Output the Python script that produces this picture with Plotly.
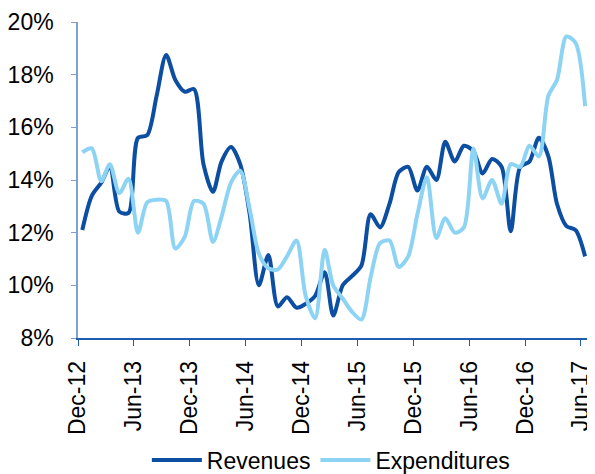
import pandas as pd
import plotly.graph_objs as go

# monthly, Dec-12 .. Jun-17 (% share)
months = pd.date_range("2012-12-01", "2017-06-01", freq="MS") + pd.Timedelta(days=14)

revenues = [12.1, 13.4, 13.9, 14.5, 12.8, 12.75, 15.6, 15.7, 17.2, 18.75,
            17.8, 17.35, 17.45, 14.6, 13.55, 14.7, 15.25, 14.6, 12.7, 10.0,
            11.15, 9.2, 9.55, 9.15, 9.3, 9.6, 10.5, 8.85, 10.0, 10.35,
            10.75, 12.7, 12.2, 13.1, 14.3, 14.5, 13.6, 14.5, 14.0, 15.45,
            14.7, 15.3, 15.1, 14.25, 14.8, 14.5, 12.05, 14.5, 14.7, 15.6,
            14.9, 13.1, 12.25, 12.1, 11.1]

expenditures = [15.05, 15.2, 13.95, 14.6, 13.5, 14.05, 12.0, 13.15, 13.25, 13.2,
                11.4, 11.85, 13.2, 13.1, 11.65, 12.6, 13.9, 14.35, 12.9, 11.2,
                10.65, 10.6, 11.1, 11.7, 9.6, 8.75, 11.35, 10.0, 9.5, 9.0,
                8.7, 10.3, 11.6, 11.7, 10.7, 11.1, 12.7, 14.1, 11.8, 12.55,
                12.0, 12.2, 15.2, 13.3, 14.0, 13.1, 14.6, 14.5, 15.3, 14.9,
                17.2, 17.8, 19.45, 19.2, 16.8]

dark = "#0b4ea2"
light = "#8dd3f4"
font = "Liberation Sans, Arial, sans-serif"

rev_line = go.Scatter(x=months, y=revenues, name="Revenues", mode="lines",
                      line=dict(color=dark, width=4, shape="spline", smoothing=0.8))
exp_line = go.Scatter(x=months, y=expenditures, name="Expenditures", mode="lines",
                      line=dict(color=light, width=4, shape="spline", smoothing=0.8))

# page body has an 8px margin, so the figure is sized to fit the window
layout = go.Layout(
  width=587, height=466,
  margin=dict(l=70, r=5, t=14, b=136),
  paper_bgcolor="white", plot_bgcolor="white",
  font=dict(family=font, size=23, color="black"),
  showlegend=True,
  legend=dict(orientation="h", xref="container", yref="container",
              x=0.55, y=0.03, xanchor="center", yanchor="middle",
              font=dict(size=23), itemwidth=50, tracegroupgap=0),
  xaxis=dict(type="date", range=["2012-12-01", "2017-07-01"],
             tick0="2012-12-01", dtick="M6", tickformat="%b-%y",
             tickangle=-90, showgrid=False, zeroline=False, automargin=False,
             showline=True, linecolor="#1f5cb0", linewidth=1.5,
             ticks="outside", ticklen=6, tickcolor="#1f5cb0",
             ticklabelstandoff=6, tickfont=dict(size=23)),
  yaxis=dict(range=[8, 20], tick0=8, dtick=2, ticksuffix="%",
             showgrid=False, zeroline=False, automargin=False,
             showline=True, linecolor="#7f9fd0", linewidth=1.5,
             ticks="outside", ticklen=5, tickcolor="#7f9fd0",
             ticklabelstandoff=13, tickfont=dict(size=23)),
)

fig = go.Figure(data=[rev_line, exp_line], layout=layout)
fig.write_html("out.html")
